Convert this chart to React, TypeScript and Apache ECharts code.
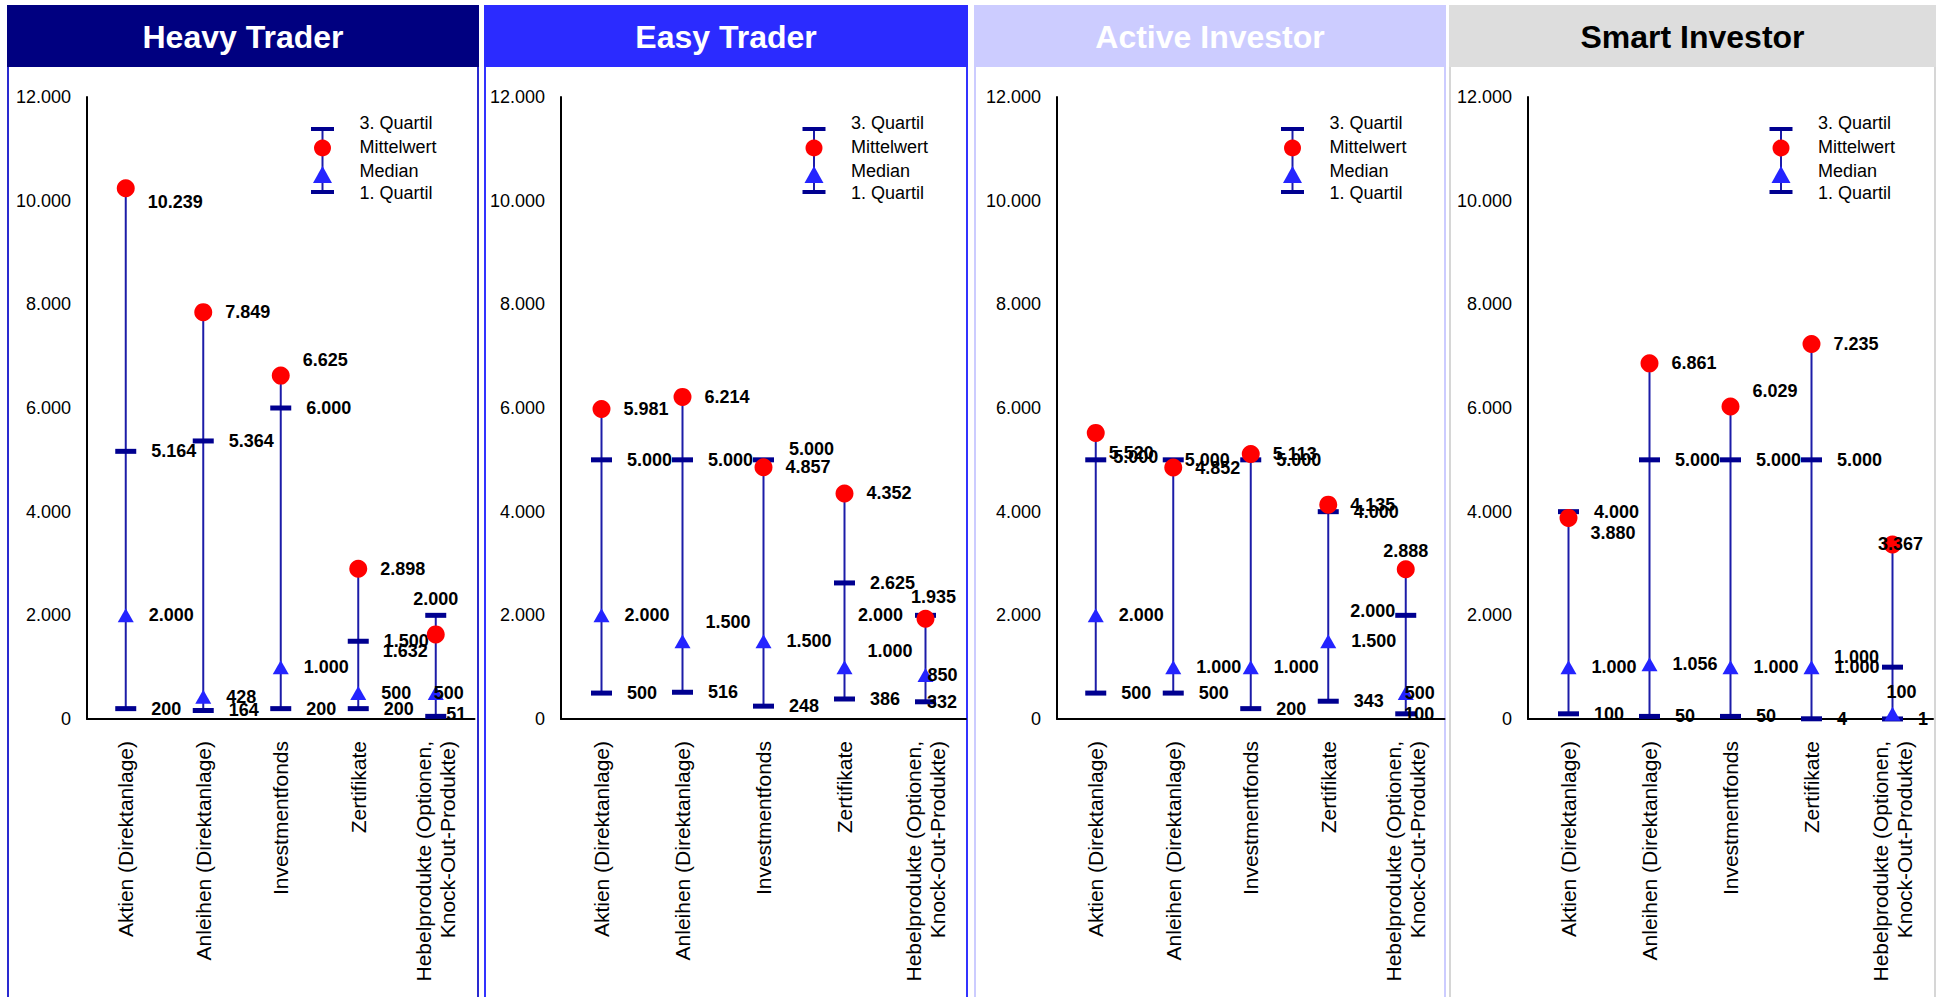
import React, { useEffect, useRef } from "react";
import * as echarts from "echarts";

// ---------- data ----------
const categories = [
  "Aktien (Direktanlage)",
  "Anleihen (Direktanlage)",
  "Investmentfonds",
  "Zertifikate",
  "Hebelprodukte (Optionen,\nKnock-Out-Produkte)",
];
const panelTitles = ["Heavy Trader", "Easy Trader", "Active Investor", "Smart Investor"];
const legendLabels = ["3. Quartil", "Mittelwert", "Median", "1. Quartil"];
const yMin = 0;
const yMax = 12000;
const yStep = 2000;

const heavyQ3 = [5164, 5364, 6000, 1500, 2000];
const heavyMean = [10239, 7849, 6625, 2898, 1632];
const heavyMedian = [2000, 428, 1000, 500, 500];
const heavyQ1 = [200, 164, 200, 200, 51];

const easyQ3 = [5000, 5000, 5000, 2625, 2000];
const easyMean = [5981, 6214, 4857, 4352, 1935];
const easyMedian = [2000, 1500, 1500, 1000, 850];
const easyQ1 = [500, 516, 248, 386, 332];

const activeQ3 = [5000, 5000, 5000, 4000, 2000];
const activeMean = [5520, 4852, 5113, 4135, 2888];
const activeMedian = [2000, 1000, 1000, 1500, 500];
const activeQ1 = [500, 500, 200, 343, 100];

const smartQ3 = [4000, 5000, 5000, 5000, 1000];
const smartMean = [3880, 6861, 6029, 7235, 3367];
const smartMedian = [1000, 1056, 1000, 1000, 100];
const smartQ1 = [100, 50, 50, 4, 1];

const panelData = [
  { q3: heavyQ3, mean: heavyMean, median: heavyMedian, q1: heavyQ1 },
  { q3: easyQ3, mean: easyMean, median: easyMedian, q1: easyQ1 },
  { q3: activeQ3, mean: activeMean, median: activeMedian, q1: activeQ1 },
  { q3: smartQ3, mean: smartMean, median: smartMedian, q1: smartQ1 },
];

// ---------- layout / style ----------
const FONT = '"Liberation Sans", Arial, Helvetica, sans-serif';
const TOP = 97;
const ZERO_Y = 719;
const H = 997;
const PANELS = [
  { x0: 8, x1: 478, axisL: 87, axisR: 474.5, head: "#000080", border: "#2a2ad0", titleColor: "#ffffff" },
  { x0: 485, x1: 967, axisL: 561, axisR: 966, head: "#2b2bff", border: "#3333ff", titleColor: "#ffffff" },
  { x0: 975, x1: 1445, axisL: 1057, axisR: 1444.5, head: "#ccccff", border: "#ccccff", titleColor: "#ffffff" },
  { x0: 1450, x1: 1935, axisL: 1528, axisR: 1933, head: "#dddddd", border: "#d6d6d6", titleColor: "#000000" },
];
const LINE_COLOR = "#1c1ca8";
const CAP_COLOR = "#000090";
const MEAN_COLOR = "#ff0000";
const MEDIAN_COLOR = "#2424ff";

// per-label position tweaks (panel-series-category)
const labelTweaks: Record<string, any> = {
  "0-mean-0": { offset: [0, 14] },
  "0-mean-2": { offset: [0, -16] },
  "0-q3-4": { position: "top", distance: 5 },
  "0-mean-4": { position: "left", distance: 0, offset: [1, 17] },
  "0-median-4": { offset: [-25, 0] },
  "0-q1-4": { offset: [-15, -2] },
  "1-median-1": { offset: [0, -19] },
  "1-q3-2": { offset: [0, -11] },
  "1-median-3": { offset: [0, -16] },
  "1-q3-4": { position: "left", distance: 12 },
  "1-mean-4": { position: "top", distance: 4, offset: [8, 0] },
  "1-median-4": { offset: [-21, 0] },
  "1-q1-4": { offset: [-24, 0] },
  "2-mean-0": { offset: [-9, 20] },
  "2-q3-0": { offset: [-8, -3] },
  "2-q3-1": { offset: [-14, 0] },
  "2-mean-4": { position: "top", distance: 0 },
  "2-q3-4": { position: "left", distance: 0, offset: [0, -4] },
  "2-median-4": { offset: [-24, 0] },
  "2-q1-4": { offset: [-27, 0] },
  "3-mean-0": { offset: [0, 15] },
  "3-mean-2": { offset: [0, -15] },
  "3-mean-4": { position: "inside", offset: [8, 0] },
  "3-q3-4": { position: "left", distance: 3, offset: [0, -10] },
  "3-median-4": { position: "top", distance: 6, offset: [9, 0] },
};

const fmt = (v: number) => String(Math.round(v)).replace(/\B(?=(\d{3})+(?!\d))/g, ".");

function buildOption() {
  const grids: any[] = [];
  const xAxes: any[] = [];
  const yAxes: any[] = [];
  const series: any[] = [];
  const graphics: any[] = [];
  const titles: any[] = [];

  PANELS.forEach((p, pi) => {
    const d = panelData[pi];
    // frame + header
    graphics.push({
      type: "rect",
      silent: true,
      shape: { x: p.x0, y: 6, width: p.x1 - p.x0, height: H + 10 },
      style: { fill: "none", stroke: p.border, lineWidth: 2 },
    });
    graphics.push({
      type: "rect",
      silent: true,
      shape: { x: p.x0 - 1, y: 5, width: p.x1 - p.x0 + 2, height: 62 },
      style: { fill: p.head },
    });
    titles.push({
      text: panelTitles[pi],
      left: (p.x0 + p.x1) / 2,
      top: 19,
      textAlign: "center",
      padding: 0,
      textStyle: { color: p.titleColor, fontSize: 32, fontWeight: "bold", fontFamily: FONT, lineHeight: 36 },
    });

    // legend drawing
    const lx = p.axisR - 152;
    graphics.push({ type: "line", silent: true, shape: { x1: lx, y1: 129, x2: lx, y2: 192 }, style: { stroke: LINE_COLOR, lineWidth: 2 } });
    graphics.push({ type: "rect", silent: true, shape: { x: lx - 11.5, y: 127, width: 23, height: 4 }, style: { fill: CAP_COLOR } });
    graphics.push({ type: "rect", silent: true, shape: { x: lx - 11.5, y: 190, width: 23, height: 4 }, style: { fill: CAP_COLOR } });
    graphics.push({ type: "circle", silent: true, shape: { cx: lx, cy: 148, r: 8.5 }, style: { fill: MEAN_COLOR } });
    graphics.push({
      type: "polygon",
      silent: true,
      shape: { points: [[lx, 166], [lx - 9.5, 183], [lx + 9.5, 183]] },
      style: { fill: MEDIAN_COLOR },
    });
    const ly = [123, 147, 171, 193];
    legendLabels.forEach((t, k) => {
      graphics.push({
        type: "text",
        silent: true,
        x: lx + 37,
        y: ly[k],
        style: {
          text: t,
          fill: "#000",
          font: `18px ${FONT}`,
          align: "left",
          verticalAlign: "middle",
          textAlign: "left",
          textVerticalAlign: "middle",
        },
      });
    });

    grids.push({
      left: p.axisL,
      width: p.axisR - p.axisL,
      top: TOP,
      height: ZERO_Y - TOP,
      containLabel: false,
    });
    xAxes.push({
      type: "category",
      gridIndex: pi,
      data: categories,
      boundaryGap: true,
      axisLine: { show: true, lineStyle: { color: "#000", width: 2 } },
      axisTick: { show: false },
      splitLine: { show: false },
      axisLabel: {
        interval: 0,
        rotate: 90,
        margin: 22,
        fontSize: 21,
        lineHeight: 24,
        color: "#000",
        fontFamily: FONT,
      },
    });
    yAxes.push({
      type: "value",
      gridIndex: pi,
      min: yMin,
      max: yMax,
      interval: yStep,
      axisLine: { show: true, lineStyle: { color: "#000", width: 2 } },
      axisTick: { show: false },
      splitLine: { show: false },
      axisLabel: { fontSize: 18, color: "#000", margin: 16, fontFamily: FONT, formatter: (v: number) => fmt(v) },
    });

    const ranges = categories.map((_, i) => {
      const vals = [d.q1[i], d.q3[i], d.mean[i], d.median[i]];
      return [i, Math.min(...vals), Math.max(...vals)];
    });
    series.push({
      type: "custom",
      name: "range",
      xAxisIndex: pi,
      yAxisIndex: pi,
      silent: true,
      encode: { x: 0, y: [1, 2] },
      data: ranges,
      renderItem: (params: any, api: any) => {
        const a = api.coord([api.value(0), api.value(1)]);
        const b = api.coord([api.value(0), api.value(2)]);
        return {
          type: "line",
          shape: { x1: a[0], y1: a[1], x2: b[0], y2: b[1] },
          style: { stroke: LINE_COLOR, lineWidth: 2 },
        };
      },
      z: 2,
    });

    const mk = (key: "q1" | "q3" | "median" | "mean", name: string, symbol: string, size: any, color: string, dist: number, z: number) => ({
      type: "scatter",
      name,
      xAxisIndex: pi,
      yAxisIndex: pi,
      symbol,
      symbolSize: size,
      itemStyle: { color, opacity: 1 },
      z,
      label: {
        show: true,
        position: "right",
        distance: dist,
        fontSize: 18,
        fontWeight: "bold",
        color: "#000",
        fontFamily: FONT,
        formatter: (prm: any) => fmt(prm.value[1]),
      },
      data: d[key].map((v, i) => {
        const tw = labelTweaks[`${pi}-${key}-${i}`];
        return tw ? { value: [i, v], label: tw } : [i, v];
      }),
    });

    series.push(mk("q1", "1. Quartil", "rect", [21, 5], CAP_COLOR, 15, 3));
    series.push(mk("q3", "3. Quartil", "rect", [21, 5], CAP_COLOR, 15, 3));
    series.push(mk("median", "Median", "triangle", [16, 14], MEDIAN_COLOR, 15, 4));
    series.push(mk("mean", "Mittelwert", "circle", 18, MEAN_COLOR, 13, 5));
  });

  return {
    animation: false,
    backgroundColor: "#ffffff",
    textStyle: { fontFamily: FONT },
    title: titles,
    grid: grids,
    xAxis: xAxes,
    yAxis: yAxes,
    series,
    graphic: { elements: graphics },
  };
}

export default function App() {
  const ref = useRef<HTMLDivElement>(null);
  useEffect(() => {
    if (!ref.current) return;
    const chart = echarts.init(ref.current, undefined, { renderer: "svg" });
    chart.setOption(buildOption() as any);
    return () => chart.dispose();
  }, []);
  return (
    <div
      ref={ref}
      style={{ position: "fixed", left: 0, top: 0, width: 1937, height: 997, background: "#fff" }}
    />
  );
}
